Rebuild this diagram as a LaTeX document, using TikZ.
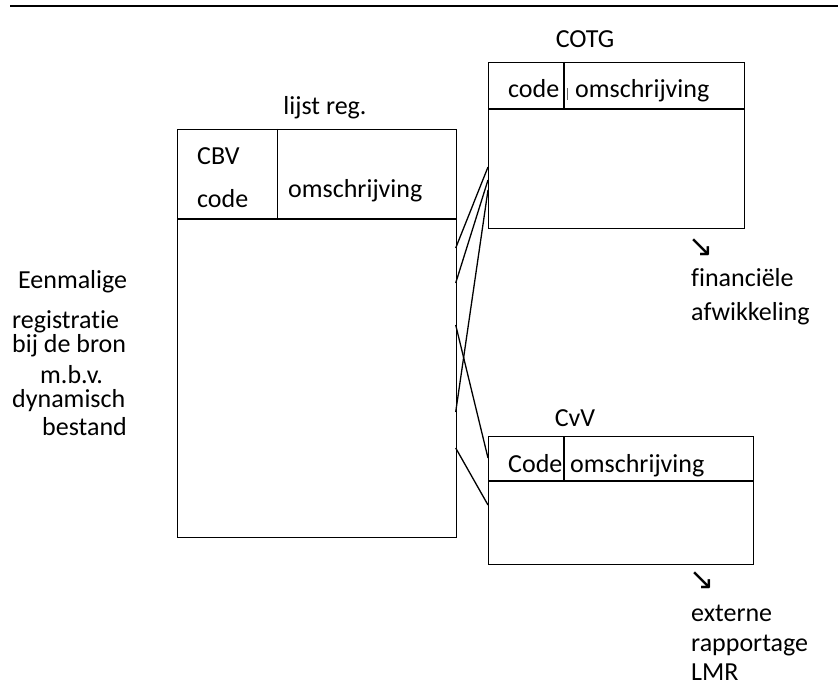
\documentclass[tikz,border=0pt]{standalone}
\usepackage{fontspec}
\setmainfont[Ligatures=NoCommon]{Carlito}
\newfontfamily\arrowfont{DejaVu Sans}
\begin{document}
\begin{tikzpicture}[x=1pt,y=-1pt,
  tbl/.style={draw, line width=1.4pt, inner sep=0pt, anchor=north west},
  rule/.style={line width=1.4pt},
  link/.style={line width=1.3pt},
  txt/.style={inner sep=0pt, font=\fontsize{26}{30}\selectfont},
  arr/.style={inner sep=0pt, font=\arrowfont\fontsize{30}{34}\selectfont}]
\useasboundingbox (0,0) rectangle (838,687);

% page rule
\draw[line width=2pt] (10,6) -- (838,6);

% tables
\node[tbl, minimum width=278.7pt, minimum height=408pt] (lijst) at (177,129) {};
\node[tbl, minimum width=256pt, minimum height=166pt] (cotg) at (488,62) {};
\node[tbl, minimum width=265pt, minimum height=128pt] (cvv) at (488,436) {};

% header rows
\draw[rule] (177,219) -- (455.7,219);
\draw[rule] (277.5,129) -- (277.5,219);
\draw[rule] (488,109) -- (744,109);
\draw[rule] (564,62) -- (564,109);
\draw[rule] (488,481) -- (753,481);
\draw[rule] (564,436) -- (564,481);
\draw[line width=0.6pt, black!60] (567.7,88) -- (567.7,100);

% titles and column heads
\node[txt, anchor=base] (tlijst) at (325,115) {lijst reg.};
\node[txt, anchor=base west] (hcbv) at (197,165) {CBV};
\node[txt, anchor=base west] (hcode) at (197,208) {code};
\node[txt, anchor=base west] (hom1) at (288,198) {omschrijving};

\node[txt, anchor=base] (tcotg) at (585,48) {COTG};
\node[txt, anchor=base west] (hcode2) at (508,98) {code};
\node[txt, anchor=base west] (hom2) at (575,98) {omschrijving};

\node[txt, anchor=base] (tcvv) at (575,426) {CvV};
\node[txt, anchor=base west] (hcode3) at (508,472) {Code};
\node[txt, anchor=base west] (hom3) at (570,472) {omschrijving};

% side note
\node[txt, anchor=base west] (n1) at (18,288) {Eenmalige};
\node[txt, anchor=base west] (n2) at (12,328) {registratie};
\node[txt, anchor=base west] (n3) at (12,352) {bij de bron};
\node[txt, anchor=base west] (n4) at (40,383) {m.b.v.};
\node[txt, anchor=base west] (n5) at (12,407) {dynamisch};
\node[txt, anchor=base west] (n6) at (42,435) {bestand};

% outputs
\node[arr, anchor=center] (ar1) at (701.5,247.5) {↘};
\node[txt, anchor=base west] (f1) at (691,287) {financiële};
\node[txt, anchor=base west] (f2) at (691,320) {afwikkeling};

\node[arr, anchor=center] (ar2) at (702.5,580.5) {↘};
\node[txt, anchor=base west] (e1) at (691,621) {externe};
\node[txt, anchor=base west] (e2) at (691,651) {rapportage};
\node[txt, anchor=base west] (e3) at (691,680) {LMR};

% link end points on the table edges
\coordinate (la) at (455.7,248);
\coordinate (lb) at (455.7,283);
\coordinate (lc) at (455.7,412);
\coordinate (ld) at (455.7,325);
\coordinate (le) at (455.7,448);
\coordinate (ca) at (488,167);
\coordinate (cb) at (488,180);
\coordinate (cc) at (488,190);
\coordinate (va) at (488,458);
\coordinate (vb) at (488,505);

\draw[link] (la) -- (ca);
\draw[link] (lb) -- (cb);
\draw[link] (lc) -- (cc);
\draw[link] (ld) -- (va);
\draw[link] (le) -- (vb);
\end{tikzpicture}
\end{document}
